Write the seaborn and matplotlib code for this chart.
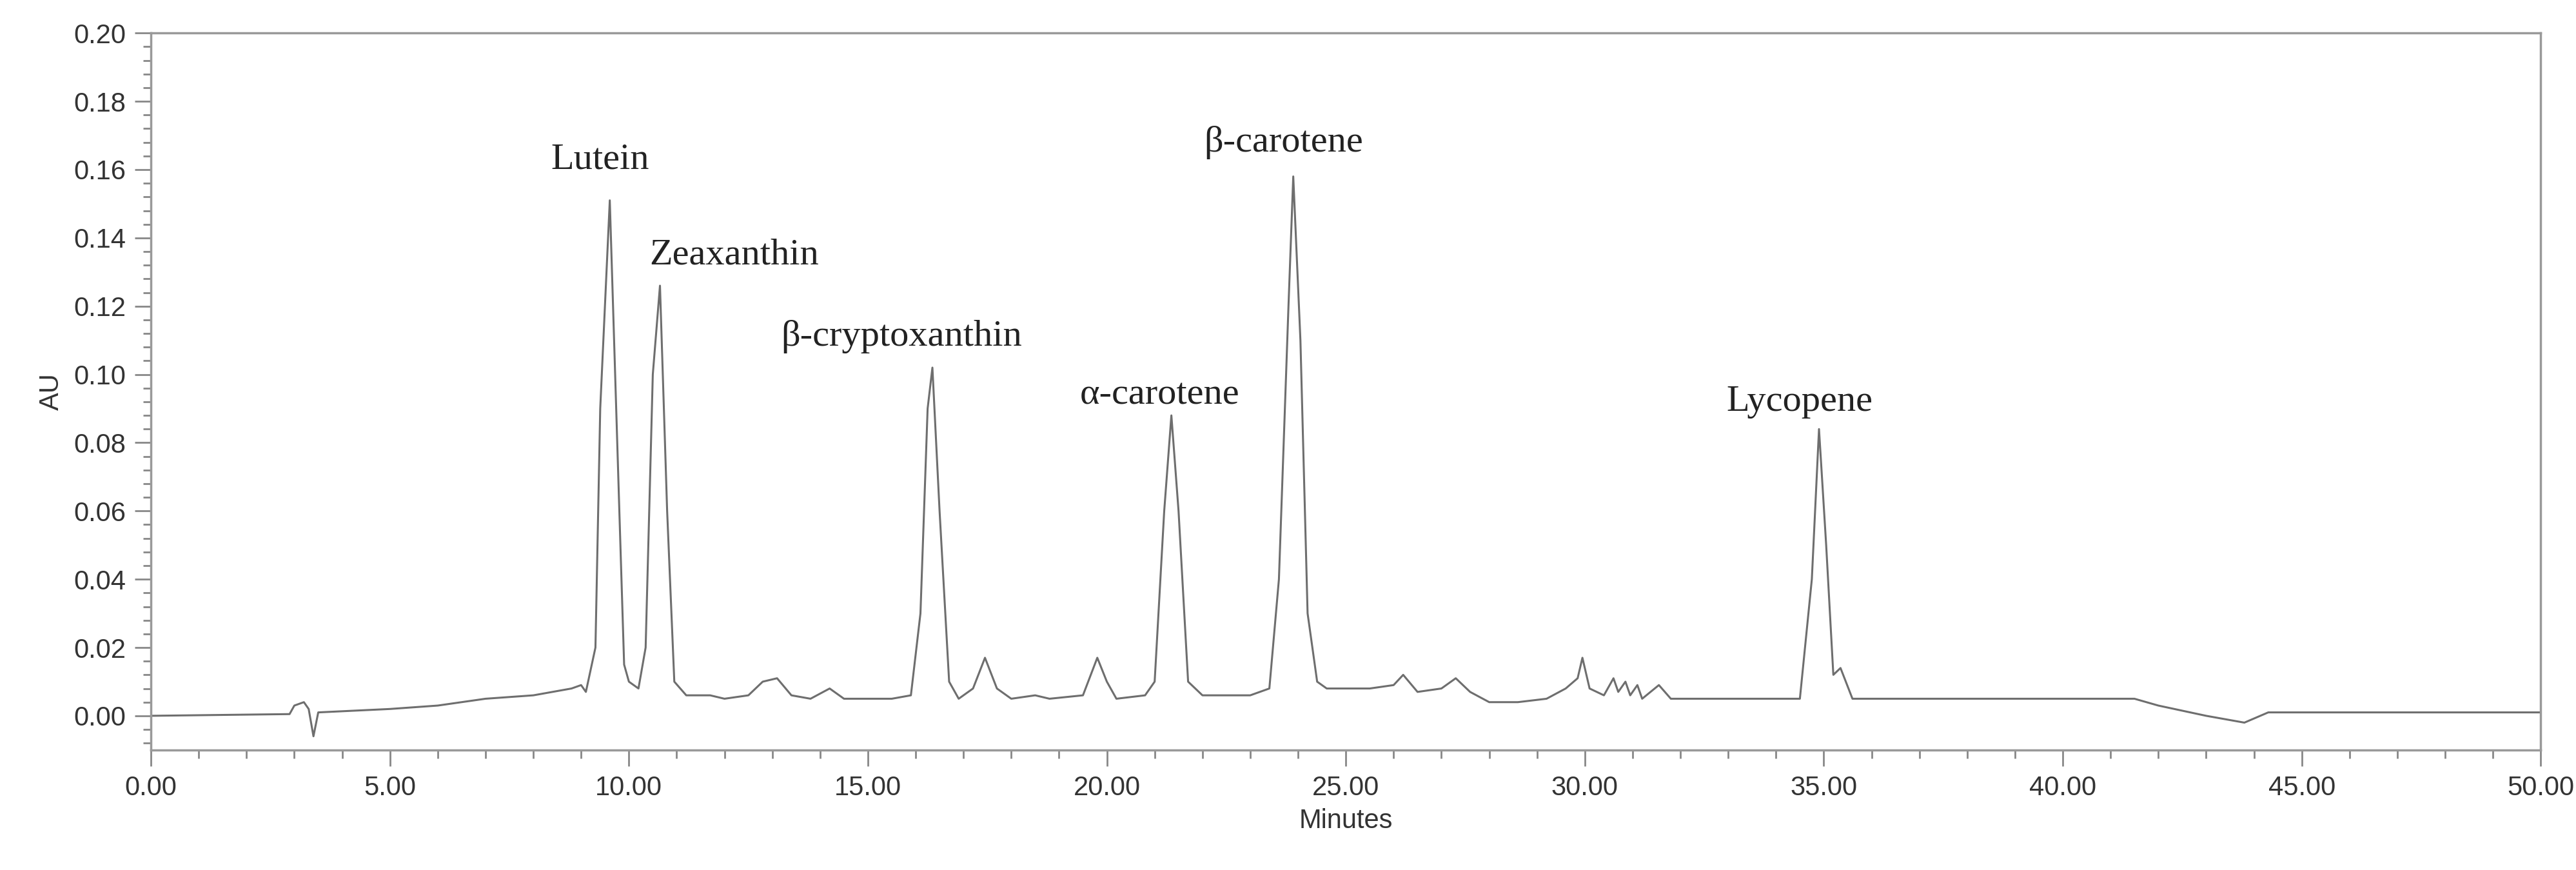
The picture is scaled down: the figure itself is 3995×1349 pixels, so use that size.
import numpy as np
import pandas as pd
import seaborn as sns
import matplotlib.pyplot as plt
from matplotlib.ticker import MultipleLocator

# chromatogram trace (minutes, AU)
minutes = [0, 2.9, 3.0, 3.2, 3.3, 3.4, 3.5, 5, 6, 7, 8, 8.8, 9.0, 9.1, 9.3, 9.4, 9.6, 9.8, 9.9,
           10.0, 10.2, 10.35, 10.5, 10.65, 10.8, 10.95, 11.2, 11.7, 12.0, 12.5, 12.8, 13.1, 13.4,
           13.8, 14.2, 14.5, 15.5, 15.9, 16.1, 16.25, 16.35, 16.5, 16.7, 16.9, 17.2, 17.45, 17.7,
           18.0, 18.5, 18.8, 19.5, 19.8, 20.0, 20.2, 20.8, 21.0, 21.2, 21.35, 21.5, 21.7, 22.0,
           22.5, 23.0, 23.4, 23.6, 23.8, 23.9, 24.05, 24.2, 24.4, 24.6, 25.5, 26.0, 26.2, 26.5,
           27.0, 27.3, 27.6, 28.0, 28.6, 29.2, 29.6, 29.85, 29.95, 30.1, 30.4, 30.6, 30.7, 30.85,
           30.95, 31.1, 31.2, 31.55, 31.8, 33, 34.5, 34.75, 34.9, 35.05, 35.2, 35.35, 35.6, 41.5,
           42, 43, 43.8, 44.3, 50]
au = [0.000, 0.0005, 0.003, 0.004, 0.002, -0.006, 0.001, 0.002, 0.003, 0.005, 0.006, 0.008,
      0.009, 0.007, 0.02, 0.09, 0.151, 0.06, 0.015, 0.01, 0.008, 0.02, 0.10, 0.126, 0.06, 0.01,
      0.006, 0.006, 0.005, 0.006, 0.01, 0.011, 0.006, 0.005, 0.008, 0.005, 0.005, 0.006, 0.03,
      0.09, 0.102, 0.06, 0.01, 0.005, 0.008, 0.017, 0.008, 0.005, 0.006, 0.005, 0.006, 0.017,
      0.01, 0.005, 0.006, 0.01, 0.06, 0.088, 0.06, 0.01, 0.006, 0.006, 0.006, 0.008, 0.04, 0.12,
      0.158, 0.11, 0.03, 0.01, 0.008, 0.008, 0.009, 0.012, 0.007, 0.008, 0.011, 0.007, 0.004,
      0.004, 0.005, 0.008, 0.011, 0.017, 0.008, 0.006, 0.011, 0.007, 0.010, 0.006, 0.009, 0.005,
      0.009, 0.005, 0.005, 0.005, 0.04, 0.084, 0.05, 0.012, 0.014, 0.005, 0.005, 0.003, 0.0,
      -0.002, 0.001, 0.001]

peak_names = ["Lutein", "Zeaxanthin", "β-cryptoxanthin", "α-carotene", "β-carotene", "Lycopene"]
label_x = [9.4, 12.2, 15.7, 21.1, 23.7, 34.5]
label_y = [0.163, 0.135, 0.111, 0.094, 0.168, 0.092]

df = pd.DataFrame({"Minutes": minutes, "AU": au})

sns.set_style("white")
plt.rcParams["font.family"] = ["Liberation Sans", "DejaVu Sans"]

fig = plt.figure(figsize=(39.95, 13.49), dpi=100)
ax = fig.add_axes([0.0586, 0.138, 0.9277, 0.824])
sns.lineplot(data=df, x="Minutes", y="AU", color="#6e6e6e", linewidth=2.2, ax=ax)

for name, x, y in zip(peak_names, label_x, label_y):
    ax.text(x, y, name, ha="center", va="center", fontsize=42,
            family=["Liberation Serif", "DejaVu Serif"], color="#222222")

ax.set_xlim(0, 50)
ax.set_ylim(-0.01, 0.20)
ax.xaxis.set_major_locator(MultipleLocator(5))
ax.xaxis.set_minor_locator(MultipleLocator(1))
ax.yaxis.set_major_locator(MultipleLocator(0.02))
ax.yaxis.set_minor_locator(MultipleLocator(0.004))
ax.xaxis.set_major_formatter(lambda v, p: f"{v:.2f}")
ax.yaxis.set_major_formatter(lambda v, p: f"{v:.2f}")
ax.tick_params(which="both", direction="out", color="#888888", width=2, labelsize=30,
               labelcolor="#333333", bottom=True, left=True)
ax.tick_params(which="major", length=18, pad=10)
ax.tick_params(which="minor", length=9)
for s in ax.spines.values():
    s.set_color("#999999")
    s.set_linewidth(2.5)
ax.set_xlabel("Minutes", fontsize=30, color="#333333", labelpad=8)
ax.set_ylabel("AU", fontsize=30, color="#333333", labelpad=10)

fig.savefig("out.png", dpi=100)
